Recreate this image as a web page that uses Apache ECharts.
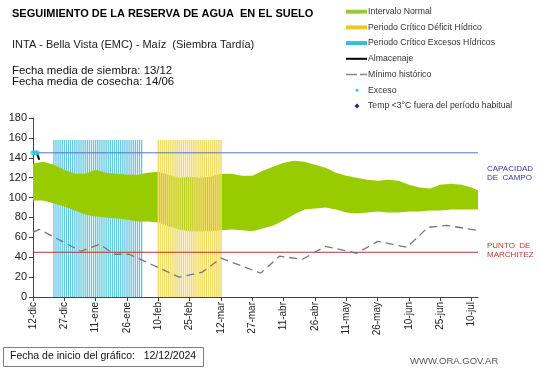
<!DOCTYPE html>
<html>
<head>
<meta charset="utf-8">
<script src="https://cdn.jsdelivr.net/npm/echarts@6/dist/echarts.min.js"></script>
<style>html,body{margin:0;padding:0;background:#fff}#c{width:541px;height:368px}</style>
</head>
<body>
<div id="c"></div>
<script>
// ---- data (x = days since 12-dic-2024) ----
const tickLabels = ['12-dic','27-dic','11-ene','26-ene','10-feb','25-feb','12-mar','27-mar','11-abr','26-abr','11-may','26-may','10-jun','25-jun','10-jul'];
const bandDays  = [0,5,10,15,20,25,30,35,40,45,50,55,60,65,70,75,80,85,90,95,100,105,110,115,120,125,130,135,140,145,150,155,160,165,170,175,180,185,190,195,200,205,210,213];
const bandUpper = [134,136,133,128,124,124,128,125,124,123,123,125,126,123,120,121,120,121,124,124,122,122,127,131,135,137,136,133,130,125,122,120,118,117,118,117,113,110,109,113,114,113,110,107];
const bandLower = [97,97,94,91,87,83,81,80,79,78,76,76,75,71,68,66,66,66,67,68,67,66,69,72,77,83,88,89,90,88,85,84,85,86,85,85,86,86,87,87,88,88,88,88];
const minDays   = [0,3,23,32,39,46,70,81,90,109,118,129,140,155,165,179,189,198,213];
const minVals   = [65,68,46,53,43,43,20,25,39,24,41,38,51,44,56,50,70,72,67];
const almDays   = [0,1,2,3];
const almVals   = [145,145,144,138];
const excesoDays = [0,1,2];
const excesoVals = [145,145,145];
const excesosHidricosDays = [10,11,12,13,14,15,16,17,18,19,20,21,22,23,24,25,26,27,28,29,30,31,32,33,34,35,36,37,38,39,40,41,42,43,44,45,46,47,48,49,50,51,52];
const deficitHidricoDays  = [60,61,62,63,64,65,66,67,68,69,70,71,72,73,74,75,76,77,78,79,80,81,82,83,84,85,86,87,88,89,90];
const periodoHeight = 158;
const capacidadCampo = 145;
const puntoMarchitez = 45;
const xMax = 213;
const legendNames = ['Intervalo Normal','Periodo Crítico Déficit Hídrico','Periodo Crítico Excesos Hídricos','Almacenaje','Mínimo histórico','Exceso','Temp <3°C fuera del período habitual'];

const FONT = 'Liberation Sans, Arial, sans-serif';
const chart = echarts.init(document.getElementById('c'));

function stripeSeries(name, days, color, z, blend, w){
  return {
    name, type:'custom', z, clip:true,
    data: days.map(d=>[d, periodoHeight]),
    encode:{x:0, y:1},
    renderItem:(params, api)=>{
      const top = api.coord([api.value(0), api.value(1)]);
      const bot = api.coord([api.value(0), 0]);
      const style = {fill:color};
      if (blend) style.blend = blend;
      return {type:'rect', shape:{x:top[0]-w/2, y:top[1], width:w, height:bot[1]-top[1]}, style};
    }
  };
}

// legend built from graphic elements (icons differ per row)
const legendX = 346, legendTop = 11.7, legendStep = 15.7;
const legendIcons = [
  i=>({type:'rect', shape:{x:legendX, y:legendTop+i*legendStep-2, width:21, height:4}, style:{fill:'#99cc33'}}),
  i=>({type:'rect', shape:{x:legendX, y:legendTop+i*legendStep-2, width:21, height:4}, style:{fill:'#f2c81c'}}),
  i=>({type:'rect', shape:{x:legendX, y:legendTop+i*legendStep-2, width:21, height:4}, style:{fill:'#33bde0'}}),
  i=>({type:'line', shape:{x1:legendX, y1:legendTop+i*legendStep, x2:legendX+21, y2:legendTop+i*legendStep}, style:{stroke:'#000', lineWidth:2}}),
  i=>({type:'line', shape:{x1:legendX, y1:legendTop+i*legendStep, x2:legendX+21, y2:legendTop+i*legendStep}, style:{stroke:'#888', lineWidth:1.5, lineDash:[11,3]}}),
  i=>({type:'circle', shape:{cx:legendX+11, cy:legendTop+i*legendStep, r:1.5}, style:{fill:'#33c8ee'}}),
  i=>({type:'polygon', shape:{points:[[legendX+11,legendTop+i*legendStep-2.5],[legendX+13.5,legendTop+i*legendStep],[legendX+11,legendTop+i*legendStep+2.5],[legendX+8.5,legendTop+i*legendStep]]}, style:{fill:'#1a2a9a'}})
];
const legendGraphics = [];
legendNames.forEach((n,i)=>{
  legendGraphics.push(legendIcons[i](i));
  legendGraphics.push({type:'text', x:legendX+22, y:legendTop+i*legendStep, style:{text:n, font:'8.7px '+FONT, fill:'#333', verticalAlign:'middle'}});
});

chart.setOption({
  animation:false,
  textStyle:{fontFamily:FONT},
  grid:{left:33, right:63, top:118, bottom:71, containLabel:false, outerBoundsMode:'none'},
  xAxis:{
    type:'value', min:0, max:xMax, interval:15,
    axisLine:{lineStyle:{color:'#444', width:1}},
    axisTick:{show:true, length:4, lineStyle:{color:'#444'}},
    splitLine:{show:false},
    axisLabel:{rotate:90, fontSize:10, color:'#222', margin:5, showMaxLabel:false,
      formatter:v=>{const i=v/15; return Number.isInteger(i)&&tickLabels[i]?tickLabels[i]:'';}}
  },
  yAxis:{
    type:'value', min:0, max:180, interval:20,
    name:'Milímetros', nameLocation:'middle', nameRotate:90, nameGap:21,
    nameTextStyle:{fontSize:7, color:'#222'},
    axisLine:{show:true, lineStyle:{color:'#444', width:1}},
    axisTick:{show:true, length:4, lineStyle:{color:'#444'}},
    splitLine:{show:false},
    axisLabel:{fontSize:11, color:'#222', margin:6}
  },
  series:[
    stripeSeries('Periodo Crítico Excesos Hídricos', excesosHidricosDays, '#62c8e0', 1, null, 1.3),
    {name:'Intervalo Normal', type:'custom', z:2, clip:true,
     data: bandDays.map((d,i)=>[d, bandUpper[i], bandLower[i]]),
     encode:{x:0, y:[1,2]},
     renderItem:(params, api)=>{
       if (params.dataIndex !== 0) return null;
       const pts = [];
       for (let i=0;i<bandDays.length;i++) pts.push(api.coord([bandDays[i], bandUpper[i]]));
       for (let i=bandDays.length-1;i>=0;i--) pts.push(api.coord([bandDays[i], bandLower[i]]));
       return {type:'polygon', shape:{points:pts}, style:{fill:'#99cc00'}};
     }},
    stripeSeries('Periodo Crítico Déficit Hídrico', deficitHidricoDays, '#f2dc6a', 3, 'multiply', 1.5),
    {name:'Capacidad de campo', type:'line', data:[[0,capacidadCampo],[xMax,capacidadCampo]], symbol:'none',
     lineStyle:{color:'#5577cc', width:1}, z:4},
    {name:'Punto de marchitez', type:'line', data:[[0,puntoMarchitez],[xMax,puntoMarchitez]], symbol:'none',
     lineStyle:{color:'#b83434', width:1}, z:4},
    {name:'Mínimo histórico', type:'line', data:minDays.map((d,i)=>[d,minVals[i]]), symbol:'none',
     lineStyle:{color:'#777', width:1.3, type:[8,5]}, z:5},
    {name:'Almacenaje', type:'line', data:almDays.map((d,i)=>[d,almVals[i]]), symbol:'none',
     lineStyle:{color:'#000', width:2}, z:6},
    {name:'Exceso', type:'scatter', data:excesoDays.map((d,i)=>[d,excesoVals[i]]), symbol:'circle', symbolSize:5,
     itemStyle:{color:'#33c8ee'}, z:7},
    {name:'Temp <3°C fuera del período habitual', type:'scatter', data:[], symbol:'diamond', symbolSize:6,
     itemStyle:{color:'#1a2a9a'}, z:7}
  ],
  graphic:[
    {type:'text', left:12, top:8, style:{text:'SEGUIMIENTO DE LA RESERVA DE AGUA  EN EL SUELO', font:'bold 11px '+FONT, fill:'#000'}},
    {type:'text', left:12, top:39, style:{text:'INTA - Bella Vista (EMC) - Maíz  (Siembra Tardía)', font:'11px '+FONT, fill:'#222'}},
    {type:'text', left:12, top:65, style:{text:'Fecha media de siembra: 13/12\nFecha media de cosecha: 14/06', font:'11.4px '+FONT, fill:'#111', lineHeight:11.5}},
    {type:'text', left:487, top:164, style:{text:'CAPACIDAD\nDE  CAMPO', font:'8px '+FONT, fill:'#3838a8', lineHeight:9}},
    {type:'text', left:487, top:241, style:{text:'PUNTO  DE\nMARCHITEZ', font:'8px '+FONT, fill:'#c03636', lineHeight:9}},
    {type:'rect', shape:{x:3.5, y:347.5, width:200, height:19}, style:{fill:'#fff', stroke:'#8c7a7a', lineWidth:1}},
    {type:'text', left:10, top:351, style:{text:'Fecha de inicio del gráfico:   12/12/2024', font:'10.5px '+FONT, fill:'#111'}},
    {type:'text', left:410, top:356, style:{text:'WWW.ORA.GOV.AR', font:'9.5px '+FONT, fill:'#555'}}
  ].concat(legendGraphics)
});
</script>
</body>
</html>
